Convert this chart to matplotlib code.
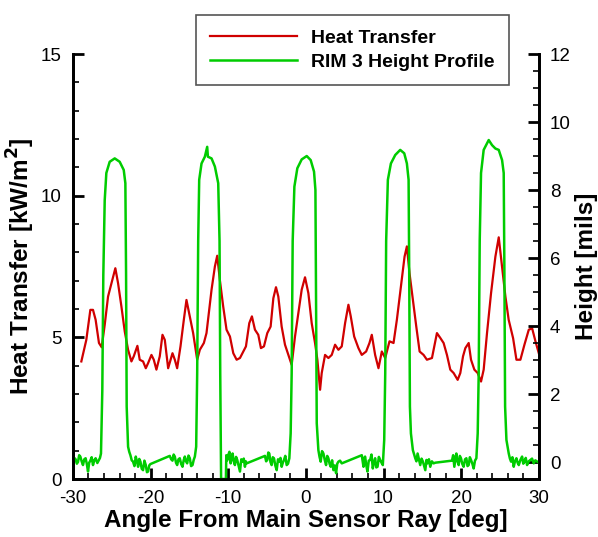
import matplotlib
matplotlib.use("Agg")
import matplotlib.pyplot as plt
from matplotlib.ticker import MultipleLocator

plt.rcParams["font.family"] = ["Liberation Sans", "DejaVu Sans"]
plt.rcParams["axes.unicode_minus"] = False

# Heat transfer (left axis, kW/m^2)
heat_angle = [
    -28.92, -28.28, -27.76, -27.42, -27.08, -26.65, -26.30, -25.91, -25.48, -24.92,
    -24.54, -24.19, -23.76, -23.33, -22.90, -22.47, -22.17, -21.70, -21.40, -20.97,
    -20.62, -20.32, -19.89, -19.59, -19.25, -18.82, -18.47, -18.17, -17.74, -17.18,
    -16.88, -16.58, -16.15, -15.72, -15.38, -15.03, -14.52, -14.00, -13.66, -13.14,
    -12.80, -12.15, -11.72, -11.42, -11.08, -10.65, -10.22, -9.78, -9.35, -8.92,
    -8.49, -8.06, -7.72, -7.29, -6.95, -6.56, -6.13, -5.79, -5.40, -4.97,
    -4.54, -4.19, -3.85, -3.55, -3.12, -2.69, -2.26, -1.83, -1.40, -0.97,
    -0.54, -0.11, 0.32, 0.75, 1.18, 1.48, 1.83, 2.04, 2.47, 2.90,
    3.33, 3.76, 4.19, 4.62, 5.05, 5.48, 5.78, 6.22, 6.77, 7.20,
    7.76, 8.19, 8.49, 8.92, 9.35, 9.78, 10.22, 10.77, 11.29, 11.72,
    12.24, 12.71, 13.01, 13.35, 13.78, 14.22, 14.65, 15.16, 15.59, 16.24,
    16.88, 17.31, 17.74, 18.17, 18.60, 19.03, 19.55, 19.89, 20.24, 20.54,
    20.97, 21.27, 21.70, 22.13, 22.56, 22.90, 23.33, 23.85, 24.41, 24.84,
    25.27, 25.70, 26.12, 26.69, 27.12, 27.63, 28.15, 28.71, 29.14, 29.57,
    30.00,
]
heat_value = [
    4.15, 4.91, 5.97, 5.97, 5.62, 4.80, 4.65, 5.44, 6.44, 7.03,
    7.44, 6.91, 6.09, 5.21, 4.56, 4.15, 4.33, 4.70, 4.21, 4.15,
    3.91, 4.09, 4.38, 4.21, 3.86, 4.33, 5.09, 4.91, 3.91, 4.44,
    4.21, 3.91, 4.68, 5.62, 6.32, 5.85, 5.15, 4.21, 4.56, 4.80,
    5.15, 6.68, 7.50, 7.88, 7.03, 6.09, 5.27, 5.03, 4.44, 4.21,
    4.27, 4.50, 4.68, 5.50, 5.74, 5.27, 5.09, 4.62, 4.68, 5.15,
    5.38, 6.38, 6.77, 6.44, 5.38, 4.74, 4.38, 4.03, 5.03, 5.85,
    6.68, 7.12, 6.56, 5.50, 4.80, 4.21, 3.15, 3.74, 4.38, 4.27,
    4.38, 4.74, 4.56, 4.68, 5.50, 6.15, 5.74, 5.03, 4.62, 4.38,
    4.50, 4.80, 5.09, 4.38, 3.91, 4.50, 4.27, 4.86, 4.80, 5.62,
    6.79, 7.85, 8.21, 7.26, 6.32, 5.38, 4.50, 4.38, 4.21, 4.27,
    5.15, 4.98, 4.80, 4.38, 3.86, 3.74, 3.50, 3.74, 4.33, 4.62,
    4.80, 4.21, 3.86, 3.74, 3.44, 3.86, 5.15, 6.56, 7.85, 8.53,
    7.50, 6.44, 5.62, 4.97, 4.21, 4.21, 4.74, 5.27, 5.32, 4.86,
    4.44,
]

# RIM 3 height profile (right axis, mils)
rim_angle = [
    -30.00, -29.83, -29.66, -29.50, -29.35, -29.20, -29.05, -28.88, -28.71, -28.54,
    -28.37, -28.22, -28.06, -27.91, -27.76, -27.59, -27.42, -27.25, -27.08, -26.86,
    -26.65, -26.52, -26.39, -26.22, -26.09, -25.91, -25.70, -25.27, -24.62, -23.98,
    -23.46, -23.25, -23.16, -23.08, -22.90, -22.75, -22.60, -22.43, -22.26, -22.08,
    -21.91, -21.76, -21.61, -21.46, -21.31, -21.14, -20.97, -20.80, -20.62, -20.47,
    -20.32, -20.17, -20.02, -17.53, -17.35, -17.18, -17.03, -16.88, -16.73, -16.58,
    -16.41, -16.24, -16.06, -15.89, -15.74, -15.59, -15.44, -15.29, -15.12, -14.95,
    -14.78, -14.60, -14.45, -14.30, -14.13, -14.00, -13.87, -13.74, -13.44, -13.01,
    -12.80, -12.71, -12.62, -12.15, -11.72, -11.29, -11.12, -11.03, -10.92, -10.30,
    -10.25, -10.12, -10.00, -9.85, -9.70, -9.57, -9.44, -9.29, -9.14, -8.99,
    -8.84, -8.66, -8.49, -8.32, -8.15, -8.00, -7.85, -7.74, -7.63, -5.27,
    -5.12, -4.97, -4.84, -4.71, -4.56, -4.41, -4.26, -4.11, -3.94, -3.76,
    -3.59, -3.42, -3.27, -3.12, -2.97, -2.82, -2.65, -2.47, -2.30, -2.13,
    -1.96, -1.83, -1.70, -1.48, -1.10, -0.54, 0.11, 0.62, 1.05, 1.23,
    1.31, 1.40, 1.61, 1.76, 1.91, 2.08, 2.26, 2.43, 2.60, 2.75,
    2.90, 3.05, 3.20, 3.38, 3.55, 3.72, 3.89, 4.04, 4.19, 4.40,
    4.62, 7.20, 7.31, 7.42, 7.53, 7.63, 7.78, 7.93, 8.10, 8.28,
    8.45, 8.62, 8.77, 8.92, 9.07, 9.23, 9.40, 9.57, 9.74, 9.91,
    10.09, 10.22, 10.34, 10.56, 10.95, 11.51, 12.15, 12.67, 13.01, 13.23,
    13.31, 13.40, 13.53, 13.78, 13.94, 14.09, 14.24, 14.39, 14.56, 14.73,
    14.90, 15.08, 15.23, 15.38, 15.53, 15.68, 15.85, 16.02, 16.23, 16.45,
    16.67, 18.82, 18.97, 19.12, 19.25, 19.38, 19.53, 19.68, 19.83, 19.98,
    20.15, 20.32, 20.50, 20.67, 20.82, 20.97, 21.12, 21.27, 21.44, 21.61,
    21.78, 21.96, 22.13, 22.26, 22.39, 22.56, 22.90, 23.55, 23.98, 24.41,
    24.84, 25.27, 25.48, 25.57, 25.66, 25.83, 26.13, 26.28, 26.43, 26.60,
    26.77, 26.94, 27.12, 27.27, 27.42, 27.63, 27.85, 28.00, 28.15, 28.32,
    28.49, 28.70, 28.92, 29.13, 29.35, 29.55, 29.75, 30.00,
]
rim_height = [
    0.05, 0.12, 0.08, -0.05, 0.00, 0.20, 0.16, 0.02, -0.09, 0.08,
    0.11, -0.05, -0.28, -0.02, 0.04, 0.14, -0.09, 0.05, 0.11, -0.03,
    0.06, 0.12, 0.25, 2.10, 5.50, 7.70, 8.50, 8.83, 8.93, 8.83,
    8.59, 8.20, 5.55, 1.63, 0.45, 0.30, 0.20, 0.05, 0.01, -0.12,
    0.16, 0.02, -0.14, 0.09, 0.01, -0.20, -0.24, 0.04, -0.09, -0.30,
    -0.28, -0.10, -0.06, 0.18, 0.08, 0.04, 0.22, 0.16, -0.02, -0.09,
    0.08, 0.11, -0.06, -0.14, 0.05, 0.16, 0.02, -0.04, 0.19, 0.11,
    -0.12, -0.09, 0.06, 0.16, 0.45, 2.60, 6.50, 8.30, 8.78, 8.98,
    9.18, 9.27, 8.98, 8.93, 8.69, 8.20, 6.50, 2.60, -0.50, -0.50,
    0.20, 0.05, 0.20, 0.30, -0.04, 0.12, 0.25, 0.02, -0.09, 0.15,
    0.06, -0.12, -0.28, 0.08, 0.01, 0.10, -0.14, 0.02, -0.04, 0.18,
    0.02, 0.06, 0.28, 0.25, 0.00, -0.09, 0.14, 0.11, -0.10, -0.24,
    0.08, 0.01, 0.12, -0.14, -0.02, 0.06, 0.18, -0.09, -0.05, 0.11,
    0.84, 2.60, 6.50, 8.10, 8.64, 8.90, 9.00, 8.88, 8.54, 8.00,
    4.57, 1.14, 0.35, 0.15, 0.01, 0.32, 0.25, 0.06, -0.09, 0.18,
    0.11, -0.05, -0.14, 0.05, -0.24, -0.10, -0.33, -0.05, 0.01, 0.04,
    -0.04, 0.20, 0.02, -0.14, 0.12, 0.16, -0.10, -0.28, 0.04, 0.06,
    0.22, -0.19, 0.00, 0.11, -0.16, -0.14, 0.15, 0.06, -0.02, -0.09,
    0.65, 2.60, 6.50, 8.30, 8.78, 9.03, 9.18, 9.08, 8.78, 8.30,
    5.55, 1.63, 0.84, 0.35, 0.22, 0.11, 0.02, 0.25, 0.08, -0.09,
    0.10, 0.01, -0.12, -0.24, 0.06, -0.04, 0.08, -0.14, 0.02, -0.04,
    -0.02, 0.04, 0.20, -0.14, 0.05, 0.25, 0.02, -0.09, 0.18, 0.11,
    -0.06, -0.14, 0.08, 0.11, -0.12, -0.09, 0.14, 0.06, -0.05, -0.19,
    0.04, 0.11, 0.84, 2.60, 6.50, 8.50, 9.18, 9.47, 9.32, 9.22,
    9.18, 8.88, 8.50, 5.55, 1.63, 0.65, 0.25, 0.10, 0.01, 0.14,
    -0.14, 0.03, 0.11, -0.02, -0.09, 0.06, 0.16, -0.05, 0.01, 0.12,
    -0.09, 0.02, 0.06, 0.10, -0.04, 0.05, 0.02, -0.02,
]

fig = plt.figure(figsize=(5.98, 5.37), dpi=100)
ax = fig.add_axes([0.122, 0.108, 0.779, 0.7914])
ax2 = ax.twinx()

l1, = ax.plot(heat_angle, heat_value, color="#d00000", lw=1.6,
              label="Heat Transfer")
l2, = ax2.plot(rim_angle, rim_height, color="#00cc00", lw=1.8,
               label="RIM 3 Height Profile")

ax.set_xlim(-30, 30)
ax.set_ylim(0, 15)
ax2.set_ylim(-0.5, 12)

ax.xaxis.set_major_locator(MultipleLocator(10))
ax.xaxis.set_minor_locator(MultipleLocator(2))
ax.yaxis.set_major_locator(MultipleLocator(5))
ax.yaxis.set_minor_locator(MultipleLocator(1))
ax2.yaxis.set_major_locator(MultipleLocator(2))
ax2.yaxis.set_minor_locator(MultipleLocator(0.5))
ax2.set_yticks(range(0, 13, 2))

for a in (ax, ax2):
    a.spines["top"].set_visible(False)
    for s in ("left", "right", "bottom"):
        a.spines[s].set_linewidth(2)
    a.tick_params(which="major", direction="in", length=8, width=2,
                  labelsize=13.5, pad=8)
    a.tick_params(which="minor", direction="in", length=4.5, width=1.2)

ax.tick_params(axis="y", which="both", right=False)
ax2.tick_params(axis="y", which="both", left=False)

ax.set_xlabel("Angle From Main Sensor Ray [deg]", fontsize=17.5,
              fontweight="bold", labelpad=1)
ax.set_ylabel("Heat Transfer [kW/m$^\\mathbf{2}$]", fontsize=17.5,
              fontweight="bold", labelpad=3)
ax2.set_ylabel("Height [mils]", fontsize=17.5, fontweight="bold", labelpad=3)

leg = fig.legend([l1, l2], ["Heat Transfer", "RIM 3 Height Profile"],
                 loc="upper left", bbox_to_anchor=(0.311, 0.99),
                 prop={"weight": "bold", "size": 14},
                 handlelength=4.45, handletextpad=0.75, labelspacing=0.3,
                 borderpad=0.75, fancybox=False, framealpha=1,
                 edgecolor="#555555")
leg.get_frame().set_linewidth(1.2)

fig.savefig("out.png", dpi=100)
